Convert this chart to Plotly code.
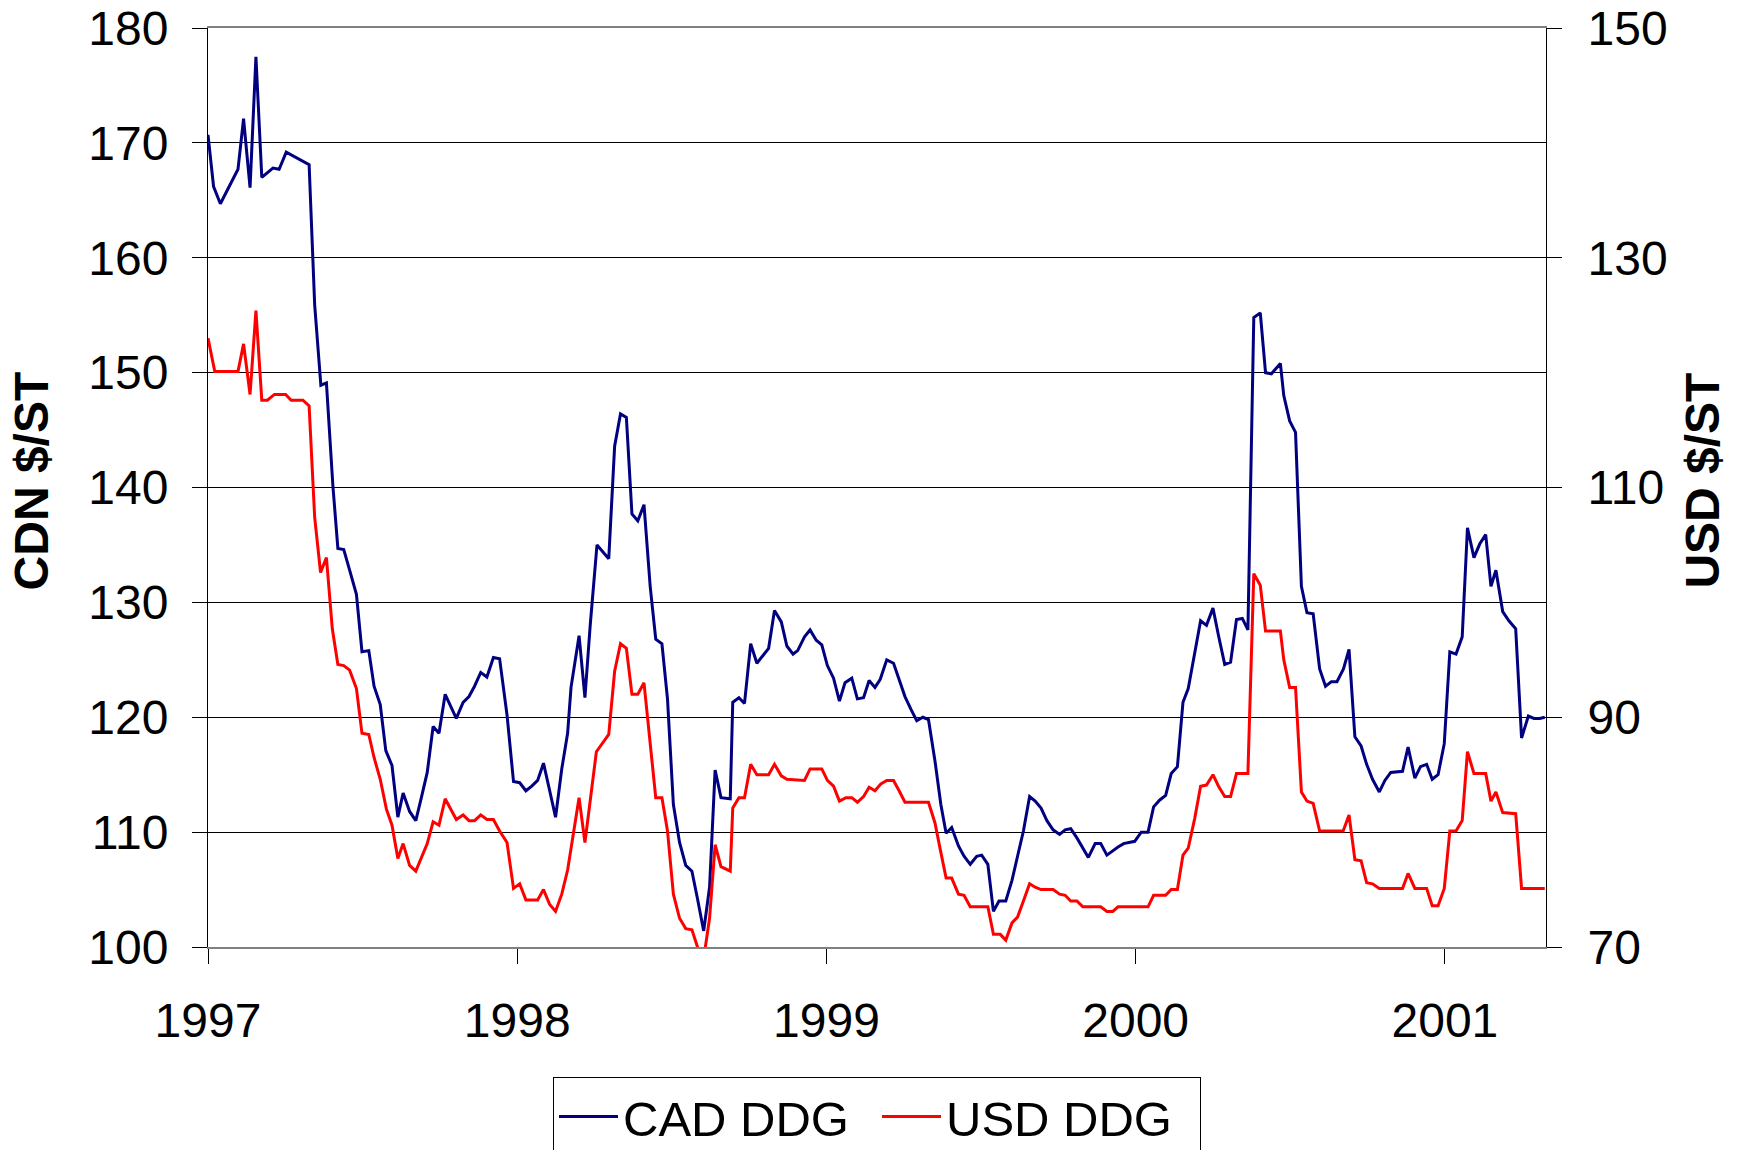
import plotly.graph_objs as go

# weekly DDG prices, x in decimal years (vertices)
cad_years = [
    1997.000, 1997.018, 1997.040, 1997.097, 1997.115, 1997.136, 1997.155, 1997.174,
    1997.210, 1997.230, 1997.253, 1997.327, 1997.345, 1997.365, 1997.383, 1997.404,
    1997.420, 1997.439, 1997.458, 1997.480, 1997.498, 1997.520, 1997.537, 1997.557,
    1997.575, 1997.595, 1997.614, 1997.631, 1997.652, 1997.672, 1997.690, 1997.709,
    1997.728, 1997.747, 1997.767, 1997.803, 1997.825, 1997.844, 1997.862, 1997.882,
    1997.902, 1997.923, 1997.943, 1997.967, 1997.988, 1998.008, 1998.028, 1998.047,
    1998.066, 1998.085, 1998.105, 1998.124, 1998.144, 1998.163, 1998.174, 1998.200,
    1998.219, 1998.236, 1998.258, 1998.296, 1998.315, 1998.334, 1998.353, 1998.371,
    1998.390, 1998.410, 1998.430, 1998.448, 1998.468, 1998.486, 1998.505, 1998.525,
    1998.545, 1998.565, 1998.583, 1998.603, 1998.622, 1998.640, 1998.659, 1998.689,
    1998.697, 1998.717, 1998.735, 1998.755, 1998.775, 1998.813, 1998.832, 1998.854,
    1998.872, 1998.892, 1998.907, 1998.929, 1998.947, 1998.967, 1998.985, 1999.003,
    1999.023, 1999.042, 1999.060, 1999.082, 1999.100, 1999.120, 1999.138, 1999.157,
    1999.174, 1999.195, 1999.217, 1999.235, 1999.254, 1999.273, 1999.292, 1999.312,
    1999.330, 1999.351, 1999.370, 1999.387, 1999.405, 1999.427, 1999.445, 1999.465,
    1999.486, 1999.502, 1999.522, 1999.540, 1999.558, 1999.580, 1999.600, 1999.618,
    1999.637, 1999.657, 1999.675, 1999.694, 1999.713, 1999.733, 1999.754, 1999.772,
    1999.790, 1999.810, 1999.829, 1999.847, 1999.869, 1999.887, 1999.907, 1999.926,
    1999.943, 1999.961, 1999.997, 2000.018, 2000.040, 2000.058, 2000.078, 2000.097,
    2000.115, 2000.135, 2000.153, 2000.170, 2000.191, 2000.210, 2000.229, 2000.250,
    2000.268, 2000.288, 2000.307, 2000.326, 2000.345, 2000.363, 2000.382, 2000.403,
    2000.420, 2000.439, 2000.468, 2000.479, 2000.498, 2000.517, 2000.536, 2000.554,
    2000.574, 2000.595, 2000.614, 2000.633, 2000.651, 2000.672, 2000.690, 2000.709,
    2000.729, 2000.747, 2000.766, 2000.788, 2000.806, 2000.825, 2000.863, 2000.881,
    2000.903, 2000.921, 2000.941, 2000.959, 2000.978, 2000.998, 2001.016, 2001.036,
    2001.056, 2001.073, 2001.094, 2001.113, 2001.132, 2001.149, 2001.165, 2001.187,
    2001.207, 2001.229, 2001.248, 2001.270, 2001.288, 2001.307, 2001.323,
]
cad_ddg = [
    170.7, 166.2, 164.7, 167.7, 172.1, 166.1, 177.5, 167.0,
    167.8, 167.7, 169.2, 168.1, 155.9, 148.9, 149.1, 140.1,
    134.7, 134.6, 132.8, 130.7, 125.7, 125.8, 122.7, 121.1,
    117.1, 115.8, 111.3, 113.4, 111.8, 111.0, 113.0, 115.2,
    119.2, 118.6, 122.0, 119.9, 121.3, 121.8, 122.7, 123.9,
    123.5, 125.2, 125.1, 120.2, 114.4, 114.3, 113.6, 114.0,
    114.5, 116.0, 113.6, 111.3, 115.5, 118.6, 122.6, 127.1,
    121.7, 128.0, 135.0, 133.8, 143.6, 146.4, 146.1, 137.7,
    137.1, 138.5, 131.4, 126.8, 126.4, 121.6, 112.4, 109.1,
    107.1, 106.6, 104.2, 101.4, 105.2, 115.4, 113.0, 112.9,
    121.3, 121.7, 121.2, 126.4, 124.7, 126.0, 129.3, 128.3,
    126.2, 125.5, 125.8, 127.0, 127.6, 126.7, 126.3, 124.5,
    123.4, 121.4, 123.0, 123.4, 121.6, 121.7, 123.2, 122.6,
    123.3, 125.0, 124.7, 123.3, 121.8, 120.7, 119.7, 120.0,
    119.8, 116.2, 112.4, 109.9, 110.4, 108.8, 107.9, 107.2,
    107.9, 108.0, 107.2, 103.1, 104.0, 104.0, 105.8, 107.9,
    110.1, 113.1, 112.7, 112.1, 111.0, 110.2, 109.8, 110.2,
    110.3, 109.5, 108.6, 107.8, 109.0, 109.0, 108.0, 108.4,
    108.7, 109.0, 109.2, 110.0, 110.0, 112.2, 112.8, 113.2,
    115.1, 115.7, 121.3, 122.5, 125.5, 128.4, 128.0, 129.5,
    127.1, 124.6, 124.8, 128.5, 128.6, 127.6, 154.8, 155.2,
    150.0, 149.9, 150.8, 148.0, 145.8, 144.8, 131.4, 129.1,
    129.0, 124.2, 122.7, 123.1, 123.1, 124.2, 125.9, 118.3,
    117.5, 115.9, 114.6, 113.5, 114.5, 115.2, 115.3, 117.4,
    114.7, 115.7, 115.9, 114.6, 115.0, 117.7, 125.7, 125.5,
    127.0, 136.5, 133.9, 135.1, 135.9, 131.4, 132.8, 129.2,
    128.4, 127.7, 118.2, 120.1, 119.9, 119.9, 120.0,
]

usd_years = [
    1997.000, 1997.022, 1997.097, 1997.115, 1997.136, 1997.155, 1997.174, 1997.192,
    1997.215, 1997.251, 1997.269, 1997.307, 1997.327, 1997.345, 1997.364, 1997.383,
    1997.402, 1997.420, 1997.439, 1997.458, 1997.480, 1997.498, 1997.520, 1997.537,
    1997.557, 1997.577, 1997.595, 1997.614, 1997.631, 1997.652, 1997.672, 1997.690,
    1997.709, 1997.728, 1997.747, 1997.767, 1997.803, 1997.825, 1997.844, 1997.862,
    1997.882, 1997.902, 1997.923, 1997.943, 1997.967, 1997.988, 1998.008, 1998.028,
    1998.066, 1998.085, 1998.105, 1998.124, 1998.144, 1998.163, 1998.182, 1998.200,
    1998.219, 1998.236, 1998.256, 1998.296, 1998.315, 1998.334, 1998.353, 1998.371,
    1998.390, 1998.410, 1998.430, 1998.448, 1998.468, 1998.486, 1998.505, 1998.525,
    1998.545, 1998.565, 1998.583, 1998.603, 1998.622, 1998.640, 1998.659, 1998.689,
    1998.697, 1998.717, 1998.735, 1998.755, 1998.775, 1998.813, 1998.832, 1998.854,
    1998.872, 1998.929, 1998.947, 1998.985, 1999.003, 1999.023, 1999.042, 1999.063,
    1999.082, 1999.100, 1999.120, 1999.138, 1999.157, 1999.176, 1999.195, 1999.217,
    1999.235, 1999.254, 1999.330, 1999.351, 1999.368, 1999.387, 1999.405, 1999.427,
    1999.445, 1999.465, 1999.522, 1999.540, 1999.562, 1999.580, 1999.600, 1999.618,
    1999.637, 1999.657, 1999.675, 1999.694, 1999.733, 1999.754, 1999.772, 1999.790,
    1999.810, 1999.829, 1999.887, 1999.907, 1999.926, 1999.943, 2000.040, 2000.058,
    2000.097, 2000.115, 2000.135, 2000.153, 2000.170, 2000.191, 2000.210, 2000.229,
    2000.250, 2000.268, 2000.288, 2000.307, 2000.326, 2000.363, 2000.382, 2000.403,
    2000.420, 2000.468, 2000.479, 2000.498, 2000.517, 2000.536, 2000.554, 2000.574,
    2000.595, 2000.671, 2000.690, 2000.709, 2000.729, 2000.747, 2000.766, 2000.788,
    2000.863, 2000.881, 2000.903, 2000.941, 2000.959, 2000.978, 2000.998, 2001.016,
    2001.036, 2001.056, 2001.073, 2001.094, 2001.132, 2001.149, 2001.165, 2001.187,
    2001.229, 2001.248, 2001.323,
]
usd_ddg = [
    123.0, 120.1, 120.1, 122.5, 118.1, 125.4, 117.6, 117.6,
    118.1, 118.1, 117.6, 117.6, 117.1, 107.4, 102.6, 103.9,
    97.7, 94.6, 94.5, 94.1, 92.5, 88.6, 88.5, 86.5,
    84.6, 82.0, 80.6, 77.7, 79.0, 77.1, 76.6, 77.7,
    79.0, 80.9, 80.6, 82.9, 81.1, 81.5, 81.0, 81.0,
    81.5, 81.1, 81.1, 80.1, 79.1, 75.1, 75.5, 74.1,
    74.1, 75.0, 73.7, 73.1, 74.6, 76.7, 79.9, 83.0,
    79.1, 82.9, 87.0, 88.5, 94.0, 96.4, 96.0, 92.0,
    92.0, 93.0, 87.6, 83.0, 83.0, 80.1, 74.6, 72.5,
    71.6, 71.5, 70.0, 69.0, 72.5, 78.9, 77.0, 76.6,
    82.1, 83.0, 83.0, 85.9, 85.0, 85.0, 85.9, 84.9,
    84.6, 84.5, 85.5, 85.5, 84.5, 84.0, 82.7, 83.0,
    83.0, 82.6, 83.1, 83.9, 83.6, 84.2, 84.5, 84.5,
    83.6, 82.6, 82.6, 80.8, 78.5, 76.0, 76.0, 74.6,
    74.5, 73.5, 73.5, 71.1, 71.1, 70.6, 72.1, 72.6,
    74.0, 75.5, 75.2, 75.0, 75.0, 74.6, 74.5, 74.0,
    74.0, 73.5, 73.5, 73.1, 73.1, 73.5, 73.5, 74.5,
    74.5, 75.0, 75.0, 78.0, 78.6, 81.2, 84.0, 84.1,
    85.0, 84.0, 83.1, 83.1, 85.1, 85.1, 102.5, 101.5,
    97.5, 97.5, 95.0, 92.6, 92.6, 83.5, 82.7, 82.5,
    80.1, 80.1, 81.5, 77.6, 77.5, 75.6, 75.5, 75.1,
    75.1, 76.4, 75.1, 75.1, 73.6, 73.6, 75.1, 80.1,
    80.1, 81.0, 87.0, 85.1, 85.1, 82.7, 83.5, 81.7,
    81.6, 75.1, 75.1,
]

year_ticks = [1997, 1998, 1999, 2000, 2001]
cad_ticks = [100, 110, 120, 130, 140, 150, 160, 170, 180]
usd_ticks = [70, 90, 110, 130, 150]

FONT = "Liberation Sans, Arial, sans-serif"

fig = go.Figure()

fig.add_trace(
    go.Scatter(
        x=cad_years,
        y=cad_ddg,
        mode="lines",
        name="CAD DDG",
        line=dict(color="#000080", width=3),
    )
)

fig.add_trace(
    go.Scatter(
        x=usd_years,
        y=usd_ddg,
        mode="lines",
        name="USD DDG",
        yaxis="y2",
        line=dict(color="#FF0000", width=3),
    )
)

# axis titles as annotations so the plot area stays where it is
fig.add_annotation(
    text="<b>CDN $/ST</b>", textangle=-90,
    xref="paper", yref="paper", x=-0.132, y=0.507,
    xanchor="center", yanchor="middle", showarrow=False,
    font=dict(size=48),
)
fig.add_annotation(
    text="<b>USD $/ST</b>", textangle=-90,
    xref="paper", yref="paper", x=1.117, y=0.507,
    xanchor="center", yanchor="middle", showarrow=False,
    font=dict(size=48),
)

fig.update_layout(
    width=1744,
    height=1150,
    margin=dict(l=208, r=198, t=28, b=203, autoexpand=False),
    paper_bgcolor="white",
    plot_bgcolor="white",
    font=dict(family=FONT, size=48, color="black"),
    showlegend=True,
    legend=dict(
        orientation="h",
        x=0.5,
        xanchor="center",
        y=-0.1416,
        yanchor="top",
        bordercolor="black",
        borderwidth=1,
        font=dict(size=49),
        itemwidth=59,
        entrywidth=249,
    ),
    xaxis=dict(
        range=[1997, 2001.327],
        tickvals=year_ticks,
        ticktext=[str(v) for v in year_ticks],
        ticks="outside",
        ticklen=15,
        tickcolor="black",
        showgrid=False,
        zeroline=False,
        showline=True,
        linecolor="#808080",
        linewidth=2,
        mirror=True,
        ticklabelstandoff=15,
        automargin=False,
    ),
    yaxis=dict(
        range=[100, 180],
        tickvals=cad_ticks,
        ticks="outside",
        ticklen=15,
        tickcolor="black",
        showgrid=True,
        gridcolor="black",
        gridwidth=1,
        zeroline=False,
        showline=True,
        linecolor="black",
        linewidth=1,
        ticklabelstandoff=14,
        ticklabeloverflow="allow",
        automargin=False,
    ),
    yaxis2=dict(
        range=[70, 150],
        tickvals=usd_ticks,
        overlaying="y",
        side="right",
        ticks="outside",
        ticklen=15,
        tickcolor="black",
        showgrid=False,
        zeroline=False,
        showline=True,
        linecolor="black",
        linewidth=1,
        ticklabelstandoff=16,
        ticklabeloverflow="allow",
        automargin=False,
    ),
)

# drop the default body margin so the figure sits at the page corner
fig.write_html(
    "out.html",
    config={"displayModeBar": False},
    post_script="document.body.style.margin = '0px';",
)
